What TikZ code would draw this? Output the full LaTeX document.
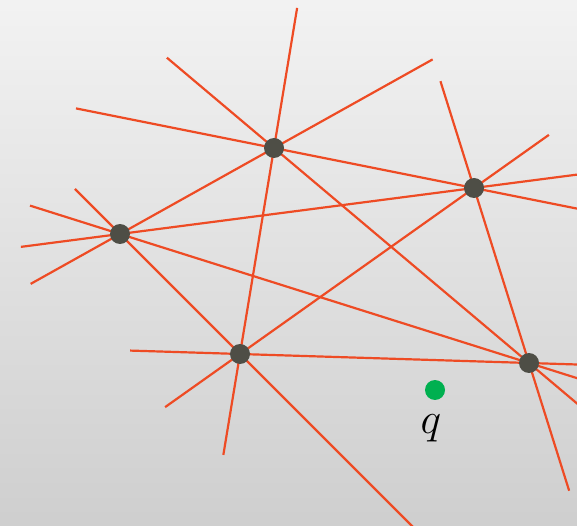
\documentclass[tikz,border=0pt]{standalone}
\usepackage{amsmath,amssymb}
\usetikzlibrary{calc,positioning}

\definecolor{lineorange}{HTML}{EE4B24}
\definecolor{ptgray}{HTML}{4E4E46}
\definecolor{qgreen}{HTML}{00B050}

\pgfdeclarelayer{back}
\pgfdeclarelayer{mid}
\pgfsetlayers{back,mid,main}

\begin{document}
\begin{tikzpicture}[
  x=0.02cm, y=-0.02cm,
  ln/.style={draw=lineorange, line width=1.25pt},
  pt/.style={circle, fill=ptgray, inner sep=0pt, minimum size=0.4cm},
  qpt/.style={circle, fill=qgreen, inner sep=0pt, minimum size=0.4cm},
]
% ---- background ----
\begin{pgfonlayer}{back}
\shade[top color=black!5, bottom color=black!19] (0,0) rectangle (577,526);
\end{pgfonlayer}
\useasboundingbox (0,0) rectangle (577,526);

% ---- points ----
\node[pt] (A) at (274,148) {};
\node[pt] (B) at (474,188) {};
\node[pt] (C) at (120,234) {};
\node[pt] (D) at (240,354) {};
\node[pt] (E) at (529,363) {};

% ---- lines through every pair ----
\begin{pgfonlayer}{mid}
\clip (0,0) rectangle (577,526);
\draw[ln] ($(A)!-0.99!(B)$)  -- ($(B)!-0.6!(A)$);
\draw[ln] ($(A)!-1.03!(C)$)  -- ($(C)!-0.58!(A)$);
\draw[ln] ($(A)!-0.68!(D)$)  -- ($(D)!-0.49!(A)$);
\draw[ln] ($(A)!-0.42!(E)$)  -- ($(E)!-0.3!(A)$);
\draw[ln] ($(B)!-0.4!(C)$)   -- ($(C)!-0.28!(B)$);
\draw[ln] ($(B)!-0.32!(D)$)  -- ($(D)!-0.32!(B)$);
\draw[ln] ($(B)!-0.61!(E)$)  -- ($(E)!-0.73!(B)$);
\draw[ln] ($(C)!-0.375!(D)$) -- ($(D)!-1.6!(C)$);
\draw[ln] ($(C)!-0.22!(E)$)  -- ($(E)!-0.2!(C)$);
\draw[ln] ($(D)!-0.38!(E)$)  -- ($(E)!-0.2!(D)$);
\end{pgfonlayer}

% ---- query point ----
\node[qpt] (Q) at (435,390) {};
\node[anchor=base, inner sep=0pt, font=\fontsize{30}{32}\selectfont] (qlab) at (431,433) {$q$};
\end{tikzpicture}
\end{document}
